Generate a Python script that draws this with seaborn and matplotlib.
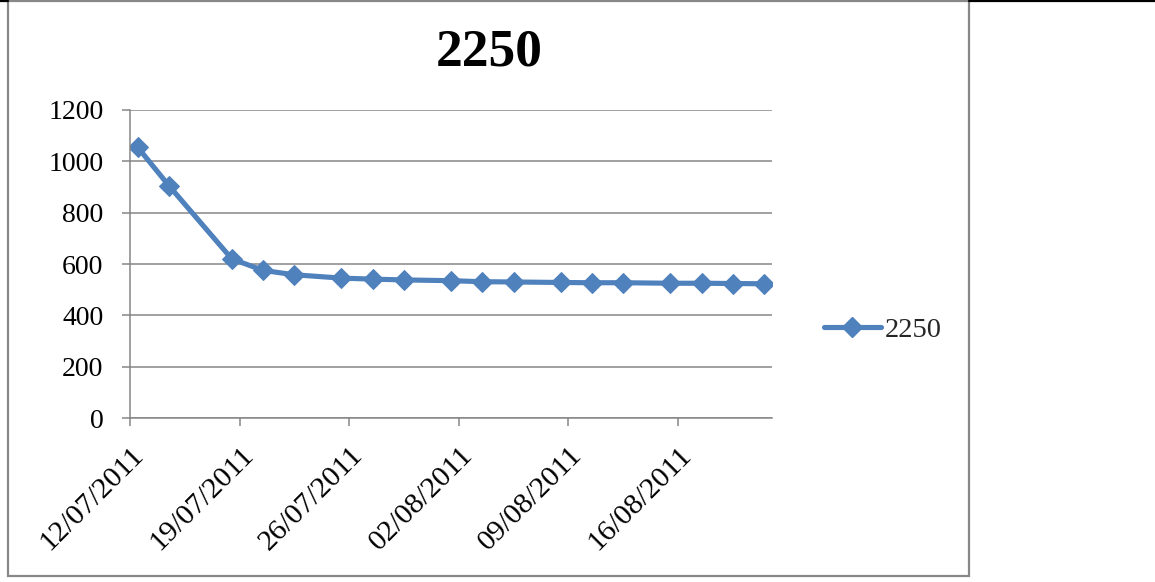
import matplotlib
matplotlib.use("Agg")
import matplotlib.pyplot as plt
import matplotlib.transforms as mtransforms
from matplotlib.patches import Rectangle
from matplotlib.lines import Line2D
import seaborn as sns
import pandas as pd

# Readings for sample 2250
dates = ["12/07/2011", "14/07/2011", "18/07/2011", "20/07/2011", "22/07/2011",
         "25/07/2011", "27/07/2011", "29/07/2011", "01/08/2011", "03/08/2011",
         "05/08/2011", "08/08/2011", "10/08/2011", "12/08/2011", "15/08/2011",
         "17/08/2011", "19/08/2011", "21/08/2011"]
values = [1054, 904, 620, 575, 558, 545, 541, 538, 535, 531,
          530, 528, 527, 527, 525, 525, 524, 523]
series_name = "2250"
tick_dates = ["12/07/2011", "19/07/2011", "26/07/2011", "02/08/2011",
              "09/08/2011", "16/08/2011"]
y_ticks = [0, 200, 400, 600, 800, 1000, 1200]

W, H, DPI = 1155, 582, 100
BLUE = "#4F81BD"
GRID = "#868686"
FONT = "Liberation Serif"

sns.set_theme(style="white")
plt.rcParams["font.family"] = [FONT, "DejaVu Serif"]

df = pd.DataFrame({
    "date": pd.to_datetime(dates, dayfirst=True) + pd.Timedelta(hours=12),
    "value": values,
    "series": series_name,
})

fig = plt.figure(figsize=(W / DPI, H / DPI), dpi=DPI)
fig.patch.set_facecolor("white")
ax = fig.add_axes([130 / W, 1 - 418 / H, (772 - 130) / W, (418 - 110) / H])

sns.lineplot(data=df, x="date", y="value", hue="series", palette=[BLUE],
             marker="D", markersize=10, markeredgecolor=BLUE, linewidth=3.7,
             ax=ax, legend=False)

# Axes ranges and ticks
x0 = pd.to_datetime("12/07/2011", dayfirst=True)
x1 = pd.to_datetime("22/08/2011", dayfirst=True)
ax.set_xlim(x0, x1)
ax.set_ylim(0, 1200)
ax.set_yticks(y_ticks)
ax.set_yticklabels([str(v) for v in y_ticks])
ticks = pd.to_datetime(tick_dates, dayfirst=True)
ax.set_xticks(ticks)
ax.set_xticklabels(tick_dates)
ax.set_xlabel("")
ax.set_ylabel("")

ax.grid(axis="y", color=GRID, linewidth=1.1)
ax.grid(axis="x", visible=False)
ax.set_axisbelow(True)
for side in ["top", "right"]:
    ax.spines[side].set_visible(False)
for side in ["left", "bottom"]:
    ax.spines[side].set_color(GRID)
    ax.spines[side].set_linewidth(1.1)

ax.tick_params(axis="y", which="major", left=True, length=6, width=1.1,
               color=GRID, pad=13, labelsize=20, labelcolor="black")
ax.tick_params(axis="x", which="major", bottom=True, length=6, width=1.1,
               color=GRID, pad=11, labelsize=21.5, labelcolor="black")

offset = mtransforms.ScaledTranslation(19 / DPI, 0, fig.dpi_scale_trans)
for lab in ax.get_xticklabels():
    lab.set_rotation(45)
    lab.set_ha("right")
    lab.set_va("top")
    lab.set_transform(lab.get_transform() + offset)

# Title
fig.text(489 / W, 1 - 53 / H, series_name, ha="center", va="center",
         fontsize=38.5, fontweight="bold", color="black")

# Legend
handle = Line2D([], [], color=BLUE, linewidth=3.7, marker="D", markersize=10,
                markeredgecolor=BLUE)
fig.legend([handle], [series_name], loc="center left",
           bbox_to_anchor=(824 / W, 1 - 330 / H), frameon=False,
           borderpad=0, borderaxespad=0, handlelength=2.0, handletextpad=0.15,
           fontsize=20.5)

# Chart border and the ruling line along the top of the page
fig.add_artist(Rectangle((8 / W, 1 - 576 / H), (969 - 8) / W, (576 - 1) / H,
                         transform=fig.transFigure, fill=False,
                         edgecolor="#888888", linewidth=1.6))
fig.add_artist(Line2D([969 / W, 1], [1 - 0.8 / H, 1 - 0.8 / H],
                      transform=fig.transFigure, color="black", linewidth=1.6))
fig.add_artist(Line2D([0, 8 / W], [1 - 0.8 / H, 1 - 0.8 / H],
                      transform=fig.transFigure, color="black", linewidth=1.6))

fig.savefig("out.png", dpi=DPI, facecolor="white")
